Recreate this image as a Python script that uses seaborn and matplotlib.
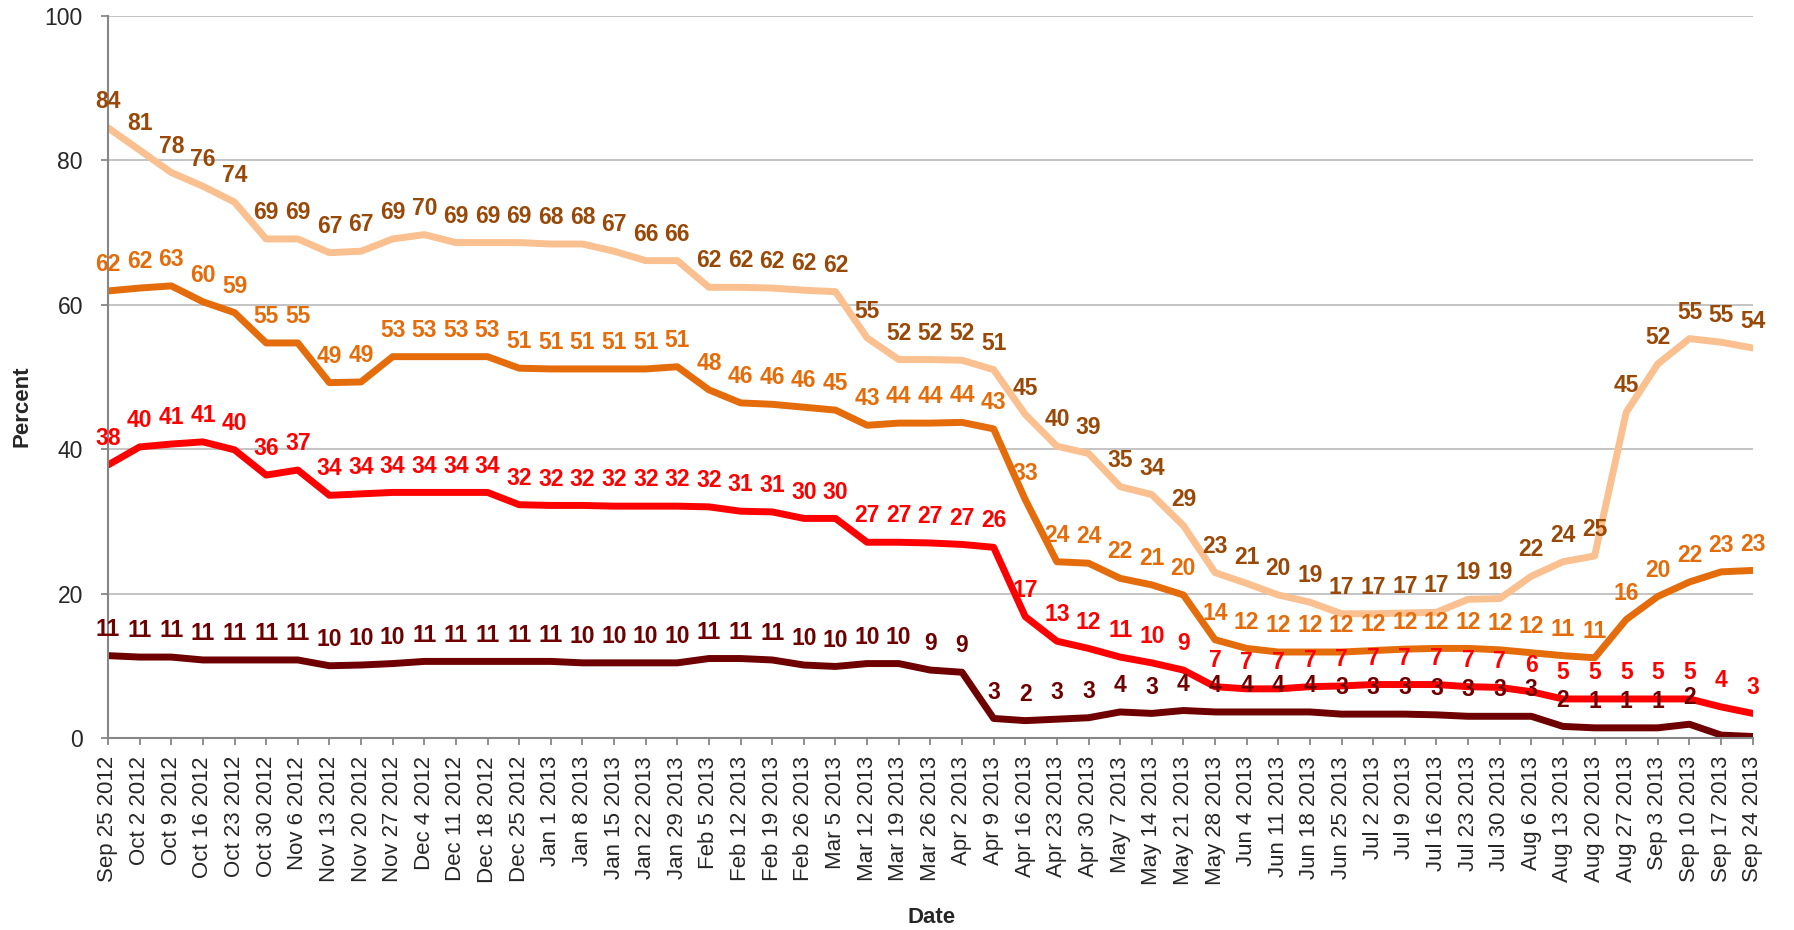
import matplotlib
matplotlib.use("Agg")
import matplotlib.pyplot as plt
import pandas as pd
import seaborn as sns

# weekly dates on the x axis
dates = ["Sep 25 2012", "Oct 2 2012", "Oct 9 2012", "Oct 16 2012", "Oct 23 2012", "Oct 30 2012",
         "Nov 6 2012", "Nov 13 2012", "Nov 20 2012", "Nov 27 2012", "Dec 4 2012", "Dec 11 2012",
         "Dec 18 2012", "Dec 25 2012", "Jan 1 2013", "Jan 8 2013", "Jan 15 2013", "Jan 22 2013",
         "Jan 29 2013", "Feb 5 2013", "Feb 12 2013", "Feb 19 2013", "Feb 26 2013", "Mar 5 2013",
         "Mar 12 2013", "Mar 19 2013", "Mar 26 2013", "Apr 2 2013", "Apr 9 2013", "Apr 16 2013",
         "Apr 23 2013", "Apr 30 2013", "May 7 2013", "May 14 2013", "May 21 2013", "May 28 2013",
         "Jun 4 2013", "Jun 11 2013", "Jun 18 2013", "Jun 25 2013", "Jul 2 2013", "Jul 9 2013",
         "Jul 16 2013", "Jul 23 2013", "Jul 30 2013", "Aug 6 2013", "Aug 13 2013", "Aug 20 2013",
         "Aug 27 2013", "Sep 3 2013", "Sep 10 2013", "Sep 17 2013", "Sep 24 2013"]

# four series (labels show the rounded value)
series1 = [84.5, 81.4, 78.3, 76.4, 74.2, 69.1, 69.1, 67.2, 67.4, 69.1, 69.7, 68.6, 68.6, 68.6,
           68.4, 68.4, 67.4, 66.1, 66.1, 62.4, 62.4, 62.3, 62.0, 61.8, 55.4, 52.4, 52.4, 52.3,
           51.0, 44.8, 40.4, 39.4, 34.8, 33.7, 29.4, 22.9, 21.4, 19.8, 18.8, 17.2, 17.2, 17.3,
           17.4, 19.2, 19.3, 22.4, 24.4, 25.2, 45.1, 51.8, 55.3, 54.8, 54.0]
series2 = [61.9, 62.3, 62.6, 60.4, 58.9, 54.7, 54.7, 49.2, 49.3, 52.8, 52.8, 52.8, 52.8, 51.2,
           51.1, 51.1, 51.1, 51.1, 51.4, 48.2, 46.4, 46.2, 45.8, 45.4, 43.3, 43.6, 43.6, 43.7,
           42.8, 33.0, 24.4, 24.2, 22.1, 21.2, 19.8, 13.6, 12.4, 11.9, 11.9, 11.9, 12.1, 12.3,
           12.4, 12.4, 12.2, 11.8, 11.4, 11.1, 16.4, 19.6, 21.6, 23.0, 23.2]
series3 = [37.8, 40.3, 40.7, 41.0, 39.9, 36.4, 37.1, 33.6, 33.8, 34.0, 34.0, 34.0, 34.0, 32.3,
           32.2, 32.2, 32.1, 32.1, 32.1, 32.0, 31.4, 31.3, 30.4, 30.4, 27.1, 27.1, 27.0, 26.8,
           26.4, 16.8, 13.4, 12.4, 11.2, 10.4, 9.4, 7.1, 6.8, 6.8, 7.1, 7.2, 7.4, 7.4,
           7.4, 7.1, 7.0, 6.4, 5.4, 5.4, 5.4, 5.4, 5.4, 4.3, 3.4]
series4 = [11.4, 11.2, 11.2, 10.8, 10.8, 10.8, 10.8, 10.0, 10.1, 10.3, 10.6, 10.6, 10.6, 10.6,
           10.6, 10.4, 10.4, 10.4, 10.4, 11.0, 11.0, 10.8, 10.1, 9.9, 10.3, 10.3, 9.4, 9.1,
           2.7, 2.4, 2.6, 2.8, 3.6, 3.4, 3.8, 3.6, 3.6, 3.6, 3.6, 3.3, 3.3, 3.3,
           3.2, 3.0, 3.0, 3.0, 1.6, 1.4, 1.4, 1.4, 1.9, 0.4, 0.2]

names = ["Series 1", "Series 2", "Series 3", "Series 4"]
line_colors = ["#FAC090", "#E46C0A", "#FF0000", "#6E0000"]
label_colors = ["#984807", "#E46C0A", "#FF0000", "#6E0000"]

# long format for seaborn
frames = []
for name, vals in zip(names, [series1, series2, series3, series4]):
    frames.append(pd.DataFrame({"pos": range(len(dates)), "value": vals, "series": name}))
df = pd.concat(frames, ignore_index=True)

sns.set_style("white")
plt.rcParams["font.family"] = ["Liberation Sans", "DejaVu Sans"]

fig, ax = plt.subplots(figsize=(17.94, 9.30), dpi=100)
fig.subplots_adjust(left=0.0602, right=0.977, top=0.983, bottom=0.2065)

sns.lineplot(data=df, x="pos", y="value", hue="series", hue_order=names,
             palette=line_colors, linewidth=5, legend=False, sort=False, ax=ax)
for ln in ax.lines:
    ln.set_solid_capstyle("round")
    ln.set_solid_joinstyle("round")

#data labels above each point
for name, col in zip(names, label_colors):
    sub = df[df["series"] == name]
    for x, v in zip(sub["pos"], sub["value"]):
        if round(v) == 0:
            continue
        ax.annotate(f"{v:.0f}", (x, v), xytext=(0, 19), textcoords="offset points",
                    ha="center", va="center", fontsize=16.5, fontweight="bold", color=col)

ax.set_xlim(0, len(dates) - 1)
ax.set_ylim(0, 100)
ax.set_yticks(range(0, 101, 20))
ax.set_xticks(range(len(dates)))
ax.set_xticklabels(dates, rotation=90, fontsize=16)
ax.tick_params(axis="y", labelsize=16.5, length=5, width=1.3, color="#868686", pad=13, left=True)
ax.tick_params(axis="x", length=5, width=1.3, color="#868686", pad=8, bottom=True)
ax.yaxis.grid(True, color="#BFBFBF", linewidth=1.3)
ax.set_axisbelow(True)
for side in ["top", "right"]:
    ax.spines[side].set_visible(False)
for side in ["left", "bottom"]:
    ax.spines[side].set_color("#868686")
    ax.spines[side].set_linewidth(1.5)

ax.set_ylabel("Percent", fontsize=16, fontweight="bold")
ax.set_xlabel("Date", fontsize=16, fontweight="bold")
ax.yaxis.set_label_coords(-0.052, 0.46)
ax.yaxis.label.set_va("center")
ax.xaxis.set_label_coords(0.501, -0.248)
ax.xaxis.label.set_va("center")

fig.savefig("out.png", dpi=100)
